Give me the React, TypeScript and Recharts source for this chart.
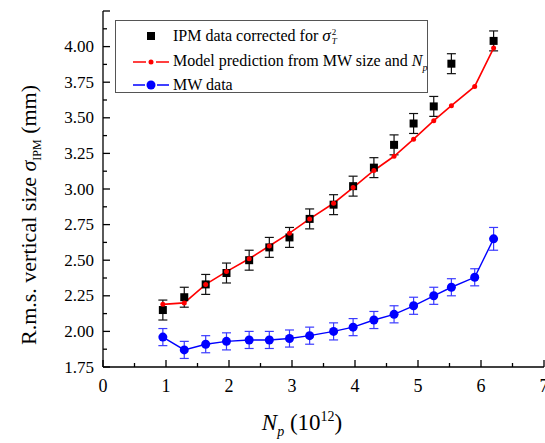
import React from "react";
import {
  ComposedChart,
  Scatter,
  Line,
  XAxis,
  YAxis,
  ErrorBar,
  Legend,
  Label
} from "recharts";

const FONT = '"Liberation Serif", "Times New Roman", serif';

// N_p (10^12) positions
const npValues = [0.95, 1.29, 1.63, 1.96, 2.32, 2.64, 2.96, 3.28, 3.66, 3.97, 4.3, 4.62, 4.93, 5.25, 5.53, 5.9, 6.2];

// IPM data corrected for sigma_T^2 (no point at 5.9)
const ipmSize = [2.15, 2.24, 2.33, 2.41, 2.5, 2.59, 2.66, 2.79, 2.89, 3.02, 3.15, 3.31, 3.46, 3.58, 3.88, null, 4.04];
const ipmErr = 0.07;

// model prediction from MW size and N_p
const modelSize = [2.19, 2.2, 2.33, 2.42, 2.51, 2.6, 2.69, 2.79, 2.9, 3.01, 3.13, 3.23, 3.35, 3.48, 3.585, 3.72, 3.99];

// MW data
const mwSize = [1.96, 1.87, 1.91, 1.93, 1.94, 1.94, 1.95, 1.97, 2.0, 2.03, 2.08, 2.12, 2.18, 2.25, 2.31, 2.38, 2.65];
const mwErr = [0.06, 0.06, 0.06, 0.06, 0.06, 0.06, 0.06, 0.06, 0.06, 0.06, 0.06, 0.06, 0.06, 0.06, 0.06, 0.06, 0.08];

const xTicks = [0, 0.5, 1, 1.5, 2, 2.5, 3, 3.5, 4, 4.5, 5, 5.5, 6, 6.5, 7];
const yTicks = [1.75, 1.875, 2, 2.125, 2.25, 2.375, 2.5, 2.625, 2.75, 2.875, 3, 3.125, 3.25, 3.375, 3.5, 3.625, 3.75, 3.875, 4, 4.125, 4.25];

const ipmData = npValues
  .map((x, i) => ({ x, y: ipmSize[i], err: ipmErr }))
  .filter((d) => d.y !== null);
const modelData = npValues.map((x, i) => ({ x, y: modelSize[i] }));
const mwData = npValues.map((x, i) => ({ x, y: mwSize[i], err: mwErr[i] }));

const isMajorX = (v: number) => Math.abs(v - Math.round(v)) < 1e-6;
const isMajorY = (v: number) => Math.abs(v * 4 - Math.round(v * 4)) < 1e-6;

function BottomTick({ x, y, payload }: any) {
  const v = payload.value;
  const major = isMajorX(v);
  return (
    <g>
      <line x1={x} y1={y} x2={x} y2={y - (major ? 7 : 4)} stroke="#000" strokeWidth={1.3} />
      {major && (
        <text x={x} y={y + 25} textAnchor="middle" fontFamily={FONT} fontSize={18} fill="#000">
          {v}
        </text>
      )}
    </g>
  );
}

function TopTick({ x, y, payload }: any) {
  const major = isMajorX(payload.value);
  return <line x1={x} y1={y} x2={x} y2={y + (major ? 7 : 4)} stroke="#000" strokeWidth={1.3} />;
}

function LeftTick({ x, y, payload }: any) {
  const v = payload.value;
  const major = isMajorY(v);
  return (
    <g>
      <line x1={x} y1={y} x2={x + (major ? 7 : 4)} y2={y} stroke="#000" strokeWidth={1.3} />
      {major && v < 4.2 && (
        <text x={x - 9} y={y + 5.5} textAnchor="end" fontFamily={FONT} fontSize={17} fill="#000">
          {v.toFixed(2)}
        </text>
      )}
    </g>
  );
}

function RightTick({ x, y, payload }: any) {
  const major = isMajorY(payload.value);
  return <line x1={x} y1={y} x2={x - (major ? 7 : 4)} y2={y} stroke="#000" strokeWidth={1.3} />;
}

function Square({ cx, cy }: any) {
  if (cx == null || cy == null) return null;
  return <rect x={cx - 4} y={cy - 4} width={8} height={8} fill="#000" />;
}

function LegendBox() {
  const row = (top: number): React.CSSProperties => ({
    position: "absolute",
    left: 0,
    top: top - 12,
    height: 24,
    display: "flex",
    alignItems: "center",
    whiteSpace: "nowrap"
  });
  const sym: React.CSSProperties = { width: 36, marginLeft: 17, marginRight: 4, display: "flex" };
  return (
    <div
      style={{
        position: "relative",
        width: 313,
        height: 73,
        boxSizing: "border-box",
        border: "1px solid #555",
        background: "#fff",
        fontFamily: FONT,
        fontSize: 16,
        color: "#000"
      }}
    >
      <div style={row(15)}>
        <div style={sym}>
          <svg width={36} height={12}>
            <rect x={14} y={2} width={8} height={8} fill="#000" />
          </svg>
        </div>
        <span>
          IPM data corrected for <i style={{ fontSize: 17 }}>σ</i>
          <span
            style={{
              display: "inline-flex",
              flexDirection: "column",
              fontSize: 9,
              lineHeight: "9px",
              verticalAlign: "middle",
              marginLeft: 1
            }}
          >
            <span>2</span>
            <i>T</i>
          </span>
        </span>
      </div>
      <div style={row(41)}>
        <div style={sym}>
          <svg width={36} height={12}>
            <line x1={0} y1={6} x2={13} y2={6} stroke="#ff0000" strokeWidth={1.5} />
            <line x1={23} y1={6} x2={36} y2={6} stroke="#ff0000" strokeWidth={1.5} />
            <circle cx={18} cy={6} r={2.5} fill="#ff0000" />
          </svg>
        </div>
        <span>
          Model prediction from MW size and <i>N</i>
          <i style={{ fontSize: 10, verticalAlign: "-5px" }}>p</i>
        </span>
      </div>
      <div style={row(64)}>
        <div style={sym}>
          <svg width={36} height={12}>
            <line x1={0} y1={6} x2={12} y2={6} stroke="#0000ff" strokeWidth={1.5} />
            <line x1={24} y1={6} x2={36} y2={6} stroke="#0000ff" strokeWidth={1.5} />
            <circle cx={18} cy={6} r={4.5} fill="#0000ff" />
          </svg>
        </div>
        <span>MW data</span>
      </div>
    </div>
  );
}

function YTitle() {
  return (
    <text transform="translate(36 215) rotate(-90)" textAnchor="middle" fontFamily={FONT} fontSize={22} fill="#000">
      R.m.s. vertical size <tspan fontStyle="italic">σ</tspan>
      <tspan fontSize={12} dy={5}>IPM</tspan>
      <tspan dy={-5}> (mm)</tspan>
    </text>
  );
}

function XTitle() {
  return (
    <text x={302} y={430} textAnchor="middle" fontFamily={FONT} fontSize={23} fill="#000">
      <tspan fontStyle="italic">N</tspan>
      <tspan fontStyle="italic" fontSize={14} dy={6}>p</tspan>
      <tspan dy={-6}> (10</tspan>
      <tspan fontSize={14} dy={-9}>12</tspan>
      <tspan dy={9}>)</tspan>
    </text>
  );
}

export default function App() {
  return (
    <div style={{ position: "absolute", left: 0, top: 0, background: "#fff" }}>
      <ComposedChart width={545} height={443} margin={{ top: 11, right: 1, bottom: 0, left: 0 }}>
        <XAxis
          xAxisId="b"
          dataKey="x"
          type="number"
          domain={[0, 7]}
          ticks={xTicks}
          interval={0}
          height={76}
          tickLine={false}
          tickSize={0}
          tickMargin={0}
          tick={BottomTick}
          stroke="#000"
          strokeWidth={1.3}
          allowDataOverflow
        >
          <Label content={XTitle} />
        </XAxis>
        <XAxis
          xAxisId="t"
          orientation="top"
          dataKey="x"
          type="number"
          domain={[0, 7]}
          ticks={xTicks}
          interval={0}
          height={0}
          tickLine={false}
          tickSize={0}
          tickMargin={0}
          tick={TopTick}
          stroke="#000"
          strokeWidth={1.3}
        />
        <YAxis
          yAxisId="l"
          type="number"
          domain={[1.75, 4.25]}
          ticks={yTicks}
          interval={0}
          width={103}
          tickLine={false}
          tickSize={0}
          tickMargin={0}
          tick={LeftTick}
          stroke="#000"
          strokeWidth={1.3}
          allowDataOverflow
        >
          <Label content={YTitle} />
        </YAxis>
        <YAxis
          yAxisId="r"
          orientation="right"
          type="number"
          domain={[1.75, 4.25]}
          ticks={yTicks}
          interval={0}
          width={0}
          tickLine={false}
          tickSize={0}
          tickMargin={0}
          tick={RightTick}
          stroke="#000"
          strokeWidth={1.3}
        />
        <Legend
          layout="vertical"
          align="center"
          verticalAlign="middle"
          wrapperStyle={{ left: 115, top: 20, width: 313, height: 73 }}
          content={LegendBox}
        />
        <Scatter
          xAxisId="b"
          yAxisId="l"
          data={ipmData}
          dataKey="y"
          name="IPM data corrected for σT2"
          fill="#000"
          shape={Square}
          isAnimationActive={false}
        >
          <ErrorBar dataKey="err" direction="y" width={4.5} stroke="#111" strokeWidth={1.2} />
        </Scatter>
        <Line
          xAxisId="b"
          yAxisId="l"
          data={modelData}
          dataKey="y"
          name="Model prediction from MW size and Np"
          stroke="#ff0000"
          strokeWidth={1.6}
          dot={{ r: 2.5, fill: "#ff0000", stroke: "none" }}
          activeDot={false}
          isAnimationActive={false}
        />
        <Line
          xAxisId="b"
          yAxisId="l"
          data={mwData}
          dataKey="y"
          name="MW data"
          stroke="#0000ff"
          strokeWidth={1.4}
          dot={{ r: 4.5, fill: "#0000ff", stroke: "none" }}
          activeDot={false}
          isAnimationActive={false}
        >
          <ErrorBar dataKey="err" direction="y" width={4.5} stroke="#3a3aff" strokeWidth={1.2} />
        </Line>
      </ComposedChart>
    </div>
  );
}
